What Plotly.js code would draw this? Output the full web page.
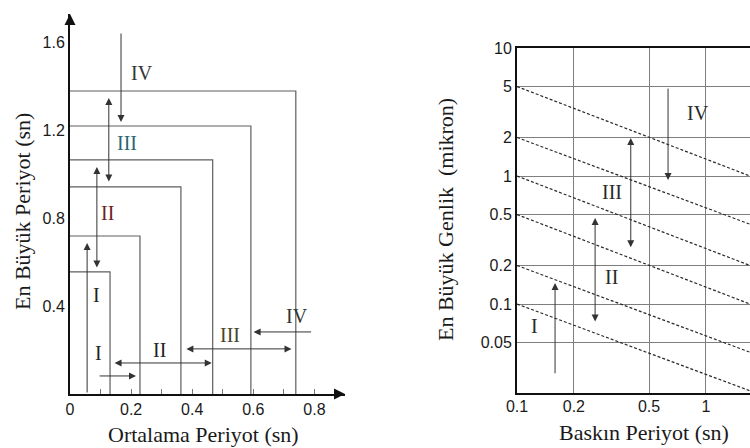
<!DOCTYPE html>
<html>
<head>
<meta charset="utf-8">
<script src="https://cdn.plot.ly/plotly-3.0.1.min.js"></script>
<style>html,body{margin:0;padding:0;background:#fff;overflow:hidden}#chart{width:750px;height:448px}</style>
</head>
<body>
<div id="chart"></div>
<script>
// ---------- Left panel (linear): Ortalama Periyot vs En Büyük Periyot ----------
const rectWidths  = [0.131, 0.229, 0.363, 0.467, 0.592, 0.739];
const rectHeights = [0.555, 0.718, 0.941, 1.064, 1.218, 1.377];

// vertical arrows (left panel)
const vArrowX    = [0.056, 0.088, 0.127, 0.167];
const vArrowTail = [0.0,   0.568, 0.959, 1.645];
const vArrowHead = [0.686, 1.032, 1.345, 1.236];
const vArrowBoth = [false, true,  true,  false];

// horizontal arrows (left panel)
const hArrowY    = [0.082, 0.141, 0.205, 0.282];
const hArrowTail = [0.092, 0.141, 0.376, 0.794];
const hArrowHead = [0.216, 0.464, 0.725, 0.601];
const hArrowBoth = [false, true,  true,  false];

// zone labels (left panel)
const leftLabels = ['IV', 'III', 'II', 'I', 'I', 'II', 'III', 'IV'];
const leftLabelX = [0.235, 0.186, 0.124, 0.088, 0.092, 0.294, 0.523, 0.742];
const leftLabelY = [1.459, 1.141, 0.823, 0.450, 0.186, 0.200, 0.268, 0.355];
const leftLabelColor = ['#333333', '#2a6470', '#6b2222', '#222222', '#222222', '#222222', '#4a4526', '#333333'];

const leftXTicks = [0, 0.2, 0.4, 0.6, 0.8];
const leftYTicks = [0.4, 0.8, 1.2, 1.6];

// ---------- Right panel (log-log): Baskın Periyot vs En Büyük Genlik ----------
const diagX     = [0.1, 1.71];
const diagStart = [5, 2, 1, 0.5, 0.2, 0.1];
const diagEnd   = [1.0, 0.42, 0.2, 0.1, 0.042, 0.021];

const rArrowX    = [0.159, 0.259, 0.40, 0.63];
const rArrowTail = [0.028, 0.071, 0.27, 4.95];
const rArrowHead = [0.146, 0.47,  1.98, 0.93];
const rArrowBoth = [false, true,  true, false];

const rightLabels = ['IV', 'III', 'II', 'I'];
const rightLabelX = [0.908, 0.318, 0.318, 0.124];
const rightLabelY = [3.1, 0.75, 0.163, 0.067];

const rightXTicks = [0.1, 0.2, 0.5, 1, 2];
const rightXTickText = ['0.1', '0.2', '0.5', '1', '2'];
const rightYTicks = [0.05, 0.1, 0.2, 0.5, 1, 2, 5, 10];
const rightYTickText = ['0.05', '0.1', '0.2', '0.5', '1', '2', '5', '10'];

// ---------- build ----------
const W = 750, H = 448;
const px = v => v / W;
const py = v => 1 - v / H;
const L10 = Math.log10;

const traces = [];
rectWidths.forEach((w, i) => {
  traces.push({
    type: 'scatter', mode: 'lines', xaxis: 'x', yaxis: 'y',
    x: [0, w, w], y: [rectHeights[i], rectHeights[i], 0],
    line: {color: '#5e5e5e', width: 1.2}, hoverinfo: 'skip'
  });
});
diagStart.forEach((s, i) => {
  traces.push({
    type: 'scatter', mode: 'lines', xaxis: 'x2', yaxis: 'y2',
    x: diagX, y: [s, diagEnd[i]],
    line: {color: '#2a2a2a', width: 1.2, dash: '3px,2px'}, hoverinfo: 'skip'
  });
});

const serif = 'Liberation Serif, Times New Roman, serif';
const sans = 'Liberation Sans, Arial, sans-serif';
const ann = [];
const arrowBase = {text: '', showarrow: true, arrowhead: 2, arrowsize: 1.4, arrowwidth: 1, arrowcolor: '#333', standoff: 0, startstandoff: 0};

vArrowX.forEach((x, i) => {
  ann.push(Object.assign({}, arrowBase, {
    xref: 'x', yref: 'y', axref: 'x', ayref: 'y',
    x: x, y: vArrowHead[i], ax: x, ay: vArrowTail[i],
    arrowside: vArrowBoth[i] ? 'end+start' : 'end', startarrowhead: 2, startarrowsize: 1.4
  }));
});
hArrowY.forEach((y, i) => {
  ann.push(Object.assign({}, arrowBase, {
    xref: 'x', yref: 'y', axref: 'x', ayref: 'y',
    x: hArrowHead[i], y: y, ax: hArrowTail[i], ay: y,
    arrowside: hArrowBoth[i] ? 'end+start' : 'end', startarrowhead: 2, startarrowsize: 1.4
  }));
});
rArrowX.forEach((x, i) => {
  ann.push(Object.assign({}, arrowBase, {
    xref: 'x2', yref: 'y2', axref: 'x2', ayref: 'y2',
    x: L10(x), y: L10(rArrowHead[i]), ax: L10(x), ay: L10(rArrowTail[i]),
    arrowside: rArrowBoth[i] ? 'end+start' : 'end', startarrowhead: 2, startarrowsize: 1.4
  }));
});
// axis arrowheads (left panel)
ann.push({text: '', showarrow: true, arrowhead: 2, arrowsize: 1.1, arrowwidth: 2, arrowcolor: '#111',
  xref: 'x', yref: 'y', axref: 'x', ayref: 'y', x: 0.9, y: 0, ax: 0.86, ay: 0});
ann.push({text: '', showarrow: true, arrowhead: 2, arrowsize: 1.1, arrowwidth: 2, arrowcolor: '#111',
  xref: 'x', yref: 'y', axref: 'x', ayref: 'y', x: 0, y: 1.727, ax: 0, ay: 1.67});

leftLabels.forEach((t, i) => {
  ann.push({text: t, showarrow: false, xref: 'x', yref: 'y', x: leftLabelX[i], y: leftLabelY[i],
    xanchor: 'center', yanchor: 'middle', font: {family: serif, size: 20, color: leftLabelColor[i]}});
});
rightLabels.forEach((t, i) => {
  ann.push({text: t, showarrow: false, xref: 'x2', yref: 'y2', x: L10(rightLabelX[i]), y: L10(rightLabelY[i]),
    xanchor: 'center', yanchor: 'middle', font: {family: serif, size: 20, color: '#2a2a2a'}});
});

// axis titles
const titleFont = {family: serif, size: 22, color: '#1a1a1a'};
ann.push({text: 'En Büyük Periyot (sn)', showarrow: false, xref: 'paper', yref: 'paper', x: px(22), y: py(212), textangle: -90, xanchor: 'center', yanchor: 'middle', font: titleFont});
ann.push({text: 'Ortalama Periyot (sn)', showarrow: false, xref: 'paper', yref: 'paper', x: px(203), y: py(434), xanchor: 'center', yanchor: 'middle', font: titleFont});
ann.push({text: 'En Büyük Genlik  (mikron)', showarrow: false, xref: 'paper', yref: 'paper', x: px(445), y: py(220), textangle: -90, xanchor: 'center', yanchor: 'middle', font: titleFont});
ann.push({text: 'Baskın Periyot (sn)', showarrow: false, xref: 'paper', yref: 'paper', x: px(644), y: py(432), xanchor: 'center', yanchor: 'middle', font: titleFont});

const tickFont = {family: sans, size: 16, color: '#1a1a1a'};
const layout = {
  width: W, height: H,
  margin: {l: 0, r: 0, t: 0, b: 0},
  paper_bgcolor: '#fff', plot_bgcolor: 'rgba(0,0,0,0)',
  showlegend: false,
  xaxis: {domain: [px(70), px(345)], range: [0, 0.9], showgrid: false, zeroline: false,
    showline: true, linecolor: '#111', linewidth: 2,
    tickmode: 'array', tickvals: leftXTicks, ticktext: leftXTicks.map(v => v === 0 ? '0' : v.toFixed(1)),
    ticks: 'inside', ticklen: 5, tickcolor: '#777', tickfont: tickFont,
    minor: {tickmode: 'linear', tick0: 0, dtick: 0.1, ticks: 'inside', ticklen: 5, tickcolor: '#777', showgrid: false},
    fixedrange: true},
  yaxis: {domain: [1 - 394 / H, 1 - 14 / H], range: [0, 1.727], showgrid: false, zeroline: false,
    showline: true, linecolor: '#111', linewidth: 2,
    tickmode: 'array', tickvals: leftYTicks, ticktext: leftYTicks.map(v => v.toFixed(1)),
    ticks: '', tickfont: tickFont, fixedrange: true},
  xaxis2: {domain: [px(517), 1], type: 'log', range: [-1, 0.233], anchor: 'y2',
    showgrid: true, gridcolor: '#7e7e7e', gridwidth: 1, zeroline: false,
    showline: true, mirror: true, linecolor: '#111', linewidth: 2,
    tickmode: 'array', tickvals: rightXTicks, ticktext: rightXTickText, ticks: '', ticklabelstandoff: -2,
    tickfont: tickFont, fixedrange: true},
  yaxis2: {domain: [1 - 393 / H, 1 - 48 / H], type: 'log', range: [-1.695, 1], anchor: 'x2',
    showgrid: true, gridcolor: '#7e7e7e', gridwidth: 1, zeroline: false,
    showline: true, linecolor: '#111', linewidth: 2,
    tickmode: 'array', tickvals: rightYTicks, ticktext: rightYTickText, ticks: '', tickfont: tickFont, fixedrange: true},
  annotations: ann
};

Plotly.newPlot('chart', traces, layout, {staticPlot: true, displayModeBar: false});
</script>
</body>
</html>
